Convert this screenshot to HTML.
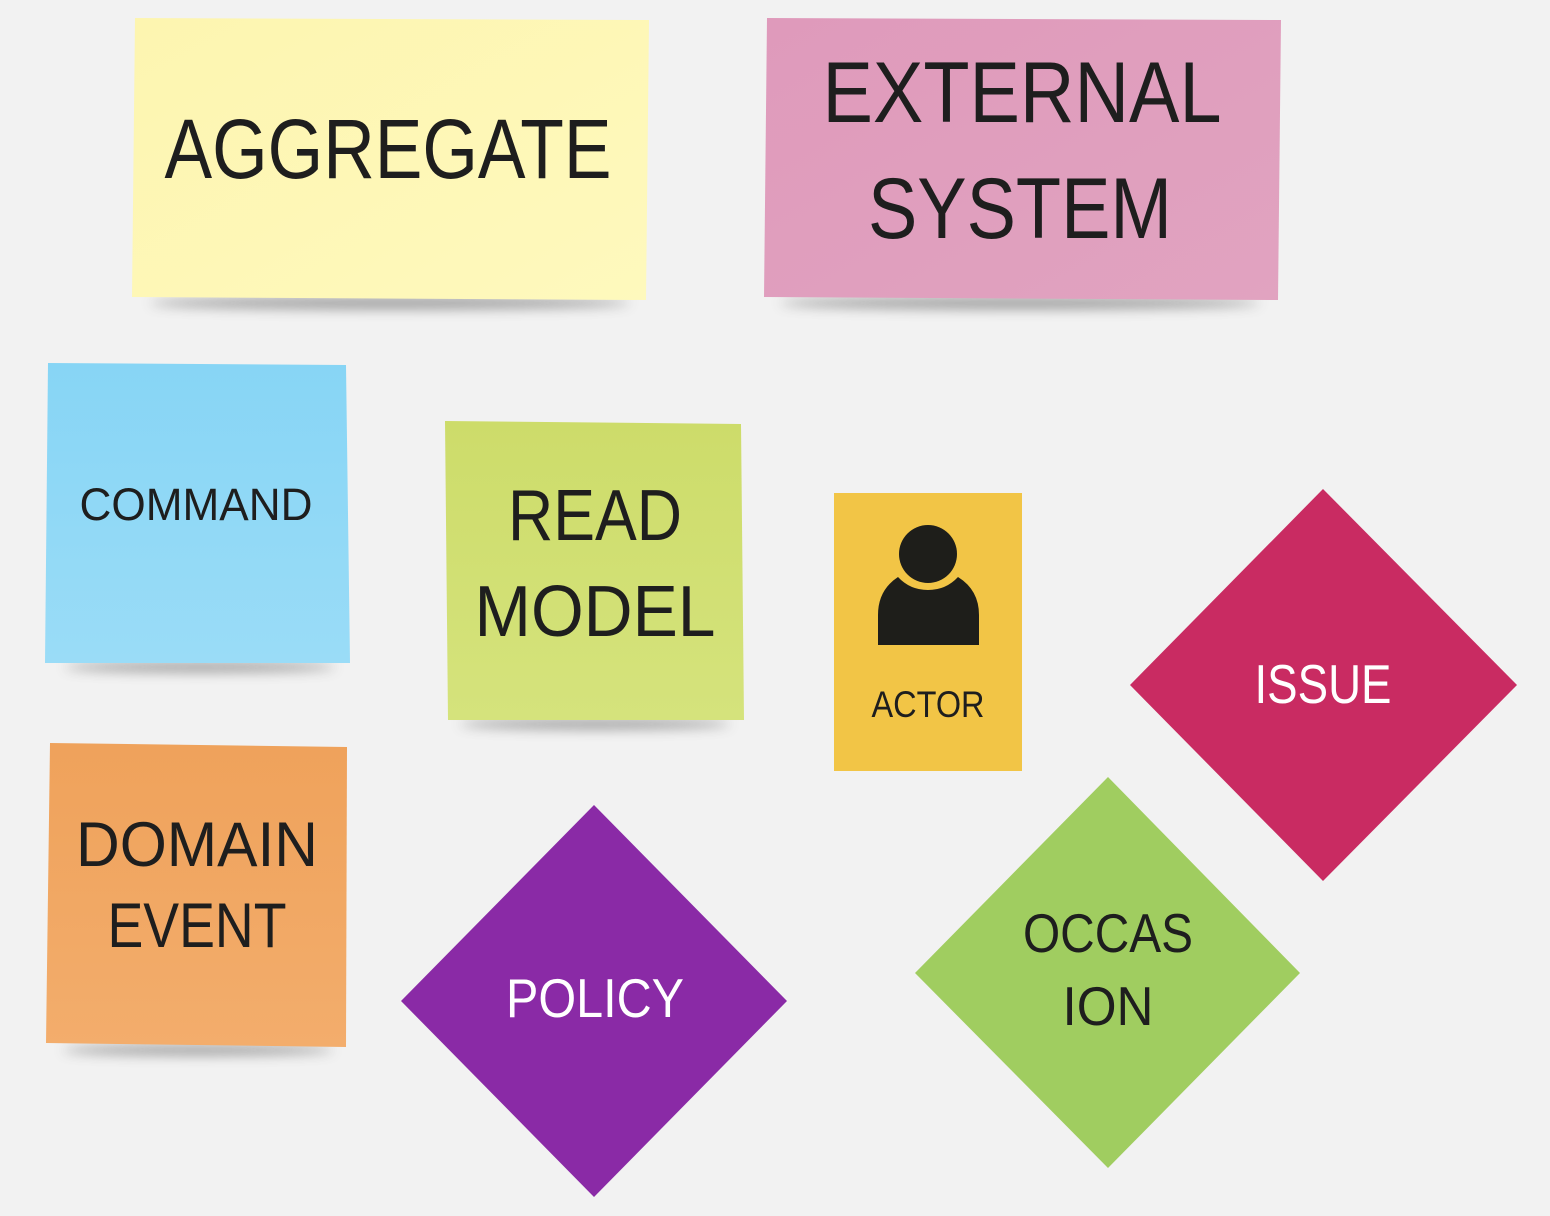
<!DOCTYPE html>
<html><head><meta charset="utf-8"><style>
html,body{margin:0;padding:0;background:#f2f2f2;}
svg{display:block;}
text{font-family:"Liberation Sans",sans-serif;fill:#1e1e1e;}
</style></head><body>
<svg width="1550" height="1216" viewBox="0 0 1550 1216" xmlns="http://www.w3.org/2000/svg">
<defs>
<filter id="sh" x="-20%" y="-200%" width="140%" height="500%"><feGaussianBlur stdDeviation="6"/></filter>
<linearGradient id="gy" x1="0" y1="0" x2="1" y2="1"><stop offset="0" stop-color="#fdf5b0"/><stop offset="1" stop-color="#fef9bd"/></linearGradient>
<linearGradient id="gp" x1="0" y1="0" x2="1" y2="1"><stop offset="0" stop-color="#df9abb"/><stop offset="1" stop-color="#e1a3c0"/></linearGradient>
<linearGradient id="gb" x1="0" y1="0" x2="0" y2="1"><stop offset="0" stop-color="#87d5f5"/><stop offset="1" stop-color="#9adcf7"/></linearGradient>
<linearGradient id="gg" x1="0" y1="0" x2="0" y2="1"><stop offset="0" stop-color="#cddc6a"/><stop offset="1" stop-color="#d5e37c"/></linearGradient>
<linearGradient id="go" x1="0" y1="0" x2="0" y2="1"><stop offset="0" stop-color="#efa25b"/><stop offset="1" stop-color="#f3ad6c"/></linearGradient>
</defs>
<!-- shadows -->
<ellipse cx="390" cy="303" rx="240" ry="6" fill="#555" opacity="0.55" filter="url(#sh)"/>
<ellipse cx="1020" cy="303" rx="240" ry="6" fill="#555" opacity="0.55" filter="url(#sh)"/>
<ellipse cx="200" cy="667" rx="135" ry="5" fill="#555" opacity="0.55" filter="url(#sh)"/>
<ellipse cx="595" cy="724" rx="135" ry="5" fill="#555" opacity="0.55" filter="url(#sh)"/>
<ellipse cx="198" cy="1050" rx="135" ry="5" fill="#555" opacity="0.55" filter="url(#sh)"/>
<!-- Aggregate -->
<polygon points="135,18 649,20 646,300 132,297" fill="url(#gy)"/>
<text x="388" y="178" font-size="84" text-anchor="middle" textLength="447" lengthAdjust="spacingAndGlyphs">AGGREGATE</text>
<!-- External system -->
<polygon points="767,18 1281,20 1278,300 764,297" fill="url(#gp)"/>
<text x="1022" y="122" font-size="86" text-anchor="middle" textLength="399" lengthAdjust="spacingAndGlyphs">EXTERNAL</text>
<text x="1020" y="238" font-size="86" text-anchor="middle" textLength="304" lengthAdjust="spacingAndGlyphs">SYSTEM</text>
<!-- Command -->
<polygon points="48,363 346,365 350,663 45,663" fill="url(#gb)"/>
<text x="196" y="520" font-size="45" text-anchor="middle" textLength="233" lengthAdjust="spacingAndGlyphs">COMMAND</text>
<!-- Read model -->
<polygon points="445,421 741,424 744,720 448,720" fill="url(#gg)"/>
<text x="595" y="540" font-size="72" text-anchor="middle" textLength="174" lengthAdjust="spacingAndGlyphs">READ</text>
<text x="595" y="636" font-size="72" text-anchor="middle" textLength="241" lengthAdjust="spacingAndGlyphs">MODEL</text>
<!-- Actor -->
<rect x="834" y="493" width="188" height="278" fill="#f2c546"/>
<path d="M878,645 L878,615 Q878,590 898,577 Q910,590 928,590 Q946,590 958,577 Q979,590 979,615 L979,645 Z" fill="#1e1e1a"/>
<circle cx="928" cy="554" r="32" fill="#f2c546"/>
<circle cx="928" cy="554" r="29" fill="#1e1e1a"/>
<text x="928" y="717" font-size="37" text-anchor="middle" textLength="113" lengthAdjust="spacingAndGlyphs">ACTOR</text>
<!-- Domain event -->
<polygon points="50,743 347,747 346,1047 46,1043" fill="url(#go)"/>
<text x="197" y="866" font-size="63" text-anchor="middle" textLength="242" lengthAdjust="spacingAndGlyphs">DOMAIN</text>
<text x="197" y="947" font-size="63" text-anchor="middle" textLength="179" lengthAdjust="spacingAndGlyphs">EVENT</text>
<!-- Issue -->
<polygon points="1323,489 1517,685 1323,881 1130,685" fill="#c92b62"/>
<text x="1323" y="703" font-size="55" text-anchor="middle" textLength="137" lengthAdjust="spacingAndGlyphs" style="fill:#fff">ISSUE</text>
<!-- Policy -->
<polygon points="594,805 787,1001 594,1197 401,1001" fill="#8a2aa6"/>
<text x="595" y="1017" font-size="55" text-anchor="middle" textLength="178" lengthAdjust="spacingAndGlyphs" style="fill:#fff">POLICY</text>
<!-- Occasion -->
<polygon points="1108,777 1300,973 1108,1168 915,973" fill="#a0cd60"/>
<text x="1108" y="952" font-size="55" text-anchor="middle" textLength="170" lengthAdjust="spacingAndGlyphs">OCCAS</text>
<text x="1108" y="1025" font-size="55" text-anchor="middle" textLength="91" lengthAdjust="spacingAndGlyphs">ION</text>
</svg>
</body></html>
